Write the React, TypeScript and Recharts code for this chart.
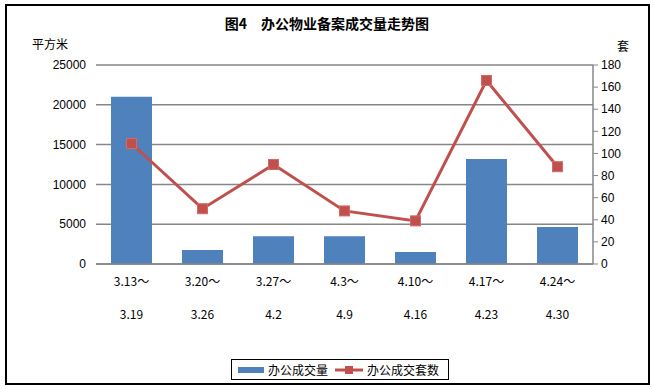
import React from 'react';
import {
  Bar,
  CartesianGrid,
  ComposedChart,
  Line,
  XAxis,
  YAxis,
} from 'recharts';

const periodStart = ['3.13～', '3.20～', '3.27～', '4.3～', '4.10～', '4.17～', '4.24～'];
const periodEnd = ['3.19', '3.26', '4.2', '4.9', '4.16', '4.23', '4.30'];
const areaValues = [21000, 1750, 3500, 3500, 1500, 13200, 4650]; // 平方米
const unitValues = [109, 50, 90, 48, 39, 166, 88]; // 套

const leftTicks = [0, 5000, 10000, 15000, 20000, 25000];
const rightTicks = [0, 20, 40, 60, 80, 100, 120, 140, 160, 180];

const BLUE = '#4F81BD';
const RED = '#C0504D';
const GRID = '#868686';
const CJK = '"Noto Sans CJK SC", "DejaVu Sans", sans-serif';
const NUM = '"Liberation Sans", Arial, sans-serif';

const data = periodStart.map((s, i) => ({
  start: s,
  end: periodEnd[i],
  area: areaValues[i],
  units: unitValues[i],
}));

function TwoLineTick(props: any) {
  const { x, y, payload } = props;
  const row = data[payload.index];
  return (
    <g>
      <text x={x} y={y + 8} textAnchor="middle" dominantBaseline="central" fontSize={12} fontFamily={CJK} fill="#000">
        {row.start}
      </text>
      <text x={x} y={y + 41} textAnchor="middle" dominantBaseline="central" fontSize={12} fontFamily={CJK} fill="#000">
        {row.end}
      </text>
    </g>
  );
}

function SquareDot(props: any) {
  const { cx, cy } = props;
  if (cx == null || cy == null) return null;
  return <rect x={cx - 5} y={cy - 5} width={10} height={10} fill={RED} stroke="#D46A67" strokeWidth={1} />;
}

export default function App() {
  return (
    <div style={{ position: 'absolute', left: 0, top: 0, width: 653, height: 389, background: '#fff' }}>
      <div
        style={{
          position: 'absolute',
          left: 5,
          top: 4,
          width: 645,
          height: 381,
          border: '2px solid #000',
          boxSizing: 'border-box',
        }}
      />
      <ComposedChart
        width={653}
        height={389}
        data={data}
        margin={{ top: 65, right: 10, left: 6, bottom: 65 }}
        barCategoryGap="21%"
        style={{ position: 'absolute', left: 0, top: 0 }}
      >
        <text x={327} y={23} textAnchor="middle" dominantBaseline="central" fontSize={14} fontWeight="bold" fontFamily={CJK} fill="#000">
          图4　办公物业备案成交量走势图
        </text>
        <text x={32} y={43} dominantBaseline="central" fontSize={12} fontFamily={CJK} fill="#000">
          平方米
        </text>
        <text x={617} y={45} dominantBaseline="central" fontSize={12} fontFamily={CJK} fill="#000">
          套
        </text>
        <CartesianGrid yAxisId="l" vertical={false} stroke={GRID} strokeWidth={1.5} />
        <XAxis
          dataKey="start"
          height={60}
          axisLine={{ stroke: GRID, strokeWidth: 1.5 }}
          tickLine={false}
          interval={0}
          tick={<TwoLineTick />}
        />
        <YAxis
          yAxisId="l"
          width={90}
          domain={[0, 25000]}
          ticks={leftTicks}
          axisLine={false}
          tickLine={false}
          tickMargin={4}
          tick={{ fontSize: 12, fontFamily: NUM, fill: '#000' }}
        />
        <YAxis
          yAxisId="r"
          orientation="right"
          width={50}
          domain={[0, 180]}
          ticks={rightTicks}
          axisLine={{ stroke: GRID, strokeWidth: 1.5 }}
          tickLine={{ stroke: GRID }}
          tickSize={5}
          tickMargin={3}
          tick={{ fontSize: 12, fontFamily: NUM, fill: '#000' }}
        />
        <Bar yAxisId="l" dataKey="area" name="办公成交量" fill={BLUE} barSize={41} isAnimationActive={false} />
        <Line
          yAxisId="r"
          dataKey="units"
          name="办公成交套数"
          type="linear"
          stroke={RED}
          strokeWidth={3}
          dot={<SquareDot />}
          activeDot={false}
          isAnimationActive={false}
        />
      </ComposedChart>
      <div
        style={{
          position: 'absolute',
          left: 231,
          top: 359,
          width: 218,
          height: 21,
          border: '1px solid #000',
          boxSizing: 'border-box',
          background: '#fff',
          fontFamily: CJK,
          fontSize: 12,
          display: 'flex',
          alignItems: 'center',
        }}
      >
        <span style={{ display: 'inline-block', width: 26, height: 6, background: BLUE, marginLeft: 6 }} />
        <span style={{ marginLeft: 4, lineHeight: '12px' }}>办公成交量</span>
        <svg width={28} height={10} style={{ marginLeft: 7 }}>
          <line x1={0} y1={5} x2={28} y2={5} stroke={RED} strokeWidth={3} />
          <rect x={10} y={1} width={8} height={8} fill={RED} />
        </svg>
        <span style={{ marginLeft: 4, lineHeight: '12px' }}>办公成交套数</span>
      </div>
    </div>
  );
}
